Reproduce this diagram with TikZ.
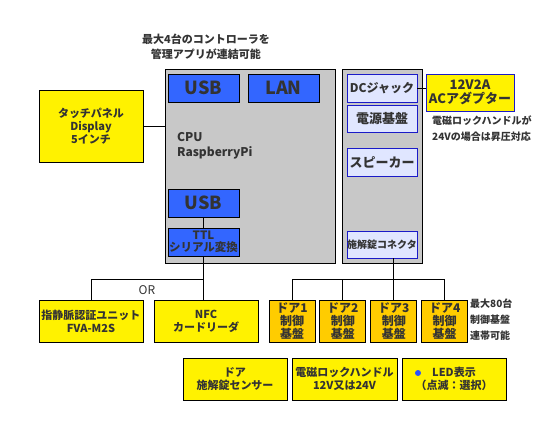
\documentclass[tikz,border=0pt]{standalone}
\usepackage{fontspec}
\setmainfont{Noto Sans CJK JP}
\usetikzlibrary{positioning}
\definecolor{boardgray}{HTML}{C8C8C8}
\definecolor{portblue}{HTML}{3366FF}
\definecolor{partblue}{HTML}{E0E6FF}
\definecolor{edgeblue}{HTML}{1A1AC8}
\definecolor{dooryellow}{HTML}{FFCC00}
\definecolor{txtgray}{HTML}{333333}
\tikzstyle{board} = [rectangle, draw, fill=boardgray, line width=0.9pt, inner sep=0pt]
\tikzstyle{port} = [rectangle, draw, fill=portblue, line width=0.9pt, minimum width=71pt, minimum height=28pt, inner sep=0pt, align=center, font=\fontsize{18}{18}\selectfont\bfseries]
\tikzstyle{part} = [rectangle, draw=edgeblue, fill=partblue, line width=0.9pt, minimum width=70pt, minimum height=27pt, inner sep=0pt, align=center]
\tikzstyle{unit} = [rectangle, draw, fill=yellow, line width=0.9pt, minimum width=104pt, minimum height=42pt, inner sep=0pt, align=center, font=\fontsize{11}{13}\selectfont\bfseries]
\tikzstyle{door} = [rectangle, draw, fill=dooryellow, line width=0.9pt, minimum width=46pt, minimum height=42pt, inner sep=0pt, align=center, font=\fontsize{12}{13}\selectfont\bfseries]
\tikzstyle{note} = [align=left, inner sep=0pt, font=\fontsize{10}{16}\selectfont\bfseries]
\tikzstyle{wire} = [line width=0.9pt]

\begin{document}
\begin{tikzpicture}[x=1pt, y=-1pt, node distance=4pt, text=txtgray]
\useasboundingbox (0,0) rectangle (550,437);

% controller boards
\node[board, minimum width=170pt, minimum height=194pt] (cpu) at (250,166) {};
\node[board, minimum width=80pt, minimum height=194pt] (power) at (382,166) {};

\node[port] (usbtop) at (203.5,88) {USB};
\node[port] (lan) at (283.5,88) {LAN};
\node[align=left, inner sep=0pt, anchor=west, font=\fontsize{12}{15}\selectfont\bfseries] (cpulabel) at (177,145.5) {CPU\\RaspberryPi};
\node[port] (usbbot) at (203.5,203) {USB};
\node[port, font=\fontsize{11.5}{12}\selectfont\bfseries] (ttl) at (203.5,242) {TTL\\シリアル変換};

\node[part, minimum height=28pt, font=\fontsize{12}{12}\selectfont\bfseries] (dcjack) at (382,88) {DCジャック};
\node[part, font=\fontsize{13}{13}\selectfont\bfseries] (dengen) at (382,118.5) {電源基盤};
\node[part, minimum height=28pt, font=\fontsize{13}{13}\selectfont\bfseries] (speaker) at (382,162) {スピーカー};
\node[part, font=\fontsize{10}{10}\selectfont\bfseries] (lockcon) at (382,244.5) {施解錠コネクタ};

% peripherals
\node[unit, minimum height=72pt] (touch) at (91,126) {タッチパネル\\Display\\5インチ};
\node[unit, draw=edgeblue, minimum width=88pt, minimum height=37pt, font=\fontsize{13}{14}\selectfont\bfseries] (adapter) at (470,92.5) {12V2A\\ACアダプター};
\node[note, anchor=north west] (boostnote) at (432,116) {電磁ロックハンドルが\\24Vの場合は昇圧対応};
\node[align=center, inner sep=0pt, font=\fontsize{11}{15}\selectfont\bfseries] (appnote) at (206,47) {最大4台のコントローラを\\管理アプリが連結可能};

\node[unit] (finger) at (91,321) {指静脈認証ユニット\\FVA-M2S};
\node[unit] (nfc) at (206,321) {NFC\\カードリーダ};
\node[font=\fontsize{12}{12}\selectfont] (orlabel) at (147,290) {OR};

\node[door] (door1) at (292,321) {ドア1\\制御\\基盤};
\node[door, right=of door1] (door2) {ドア2\\制御\\基盤};
\node[door, right=of door2] (door3) {ドア3\\制御\\基盤};
\node[door, right=of door3] (door4) {ドア4\\制御\\基盤};
\node[note, anchor=north west] (doornote) at (470,299) {最大80台\\制御基盤\\連帯可能};

\node[unit] (sensor) at (235,379) {ドア\\施解錠センサー};
\node[unit, minimum width=105pt] (handle) at (344.5,379) {電磁ロックハンドル\\12V又は24V};
\node[unit] (led) at (454,379) {LED表示\\（点滅：選択）};
\fill[portblue!80!blue] (418,373) circle (3pt);

% wiring
\coordinate (orbus) at (204,279);
\coordinate (doorbus) at (392,279);
\draw[wire] (touch.east) -- (touch.east -| cpu.west);
\draw[wire] (dcjack.east) -- (dcjack.east -| adapter.west);
\draw[wire] (usbbot) -- (ttl);
\draw[wire] (ttl.south) -- (ttl.south |- nfc.north);
\draw[wire] (ttl.south |- orbus) -| (finger.north);
\draw[wire] (door3.north) -- (door3.north |- lockcon.south);
\draw[wire] (door1.north) -- (door1.north |- doorbus) -| (door4.north);
\draw[wire] (door2.north) -- (door2.north |- doorbus);

\end{tikzpicture}
\end{document}
